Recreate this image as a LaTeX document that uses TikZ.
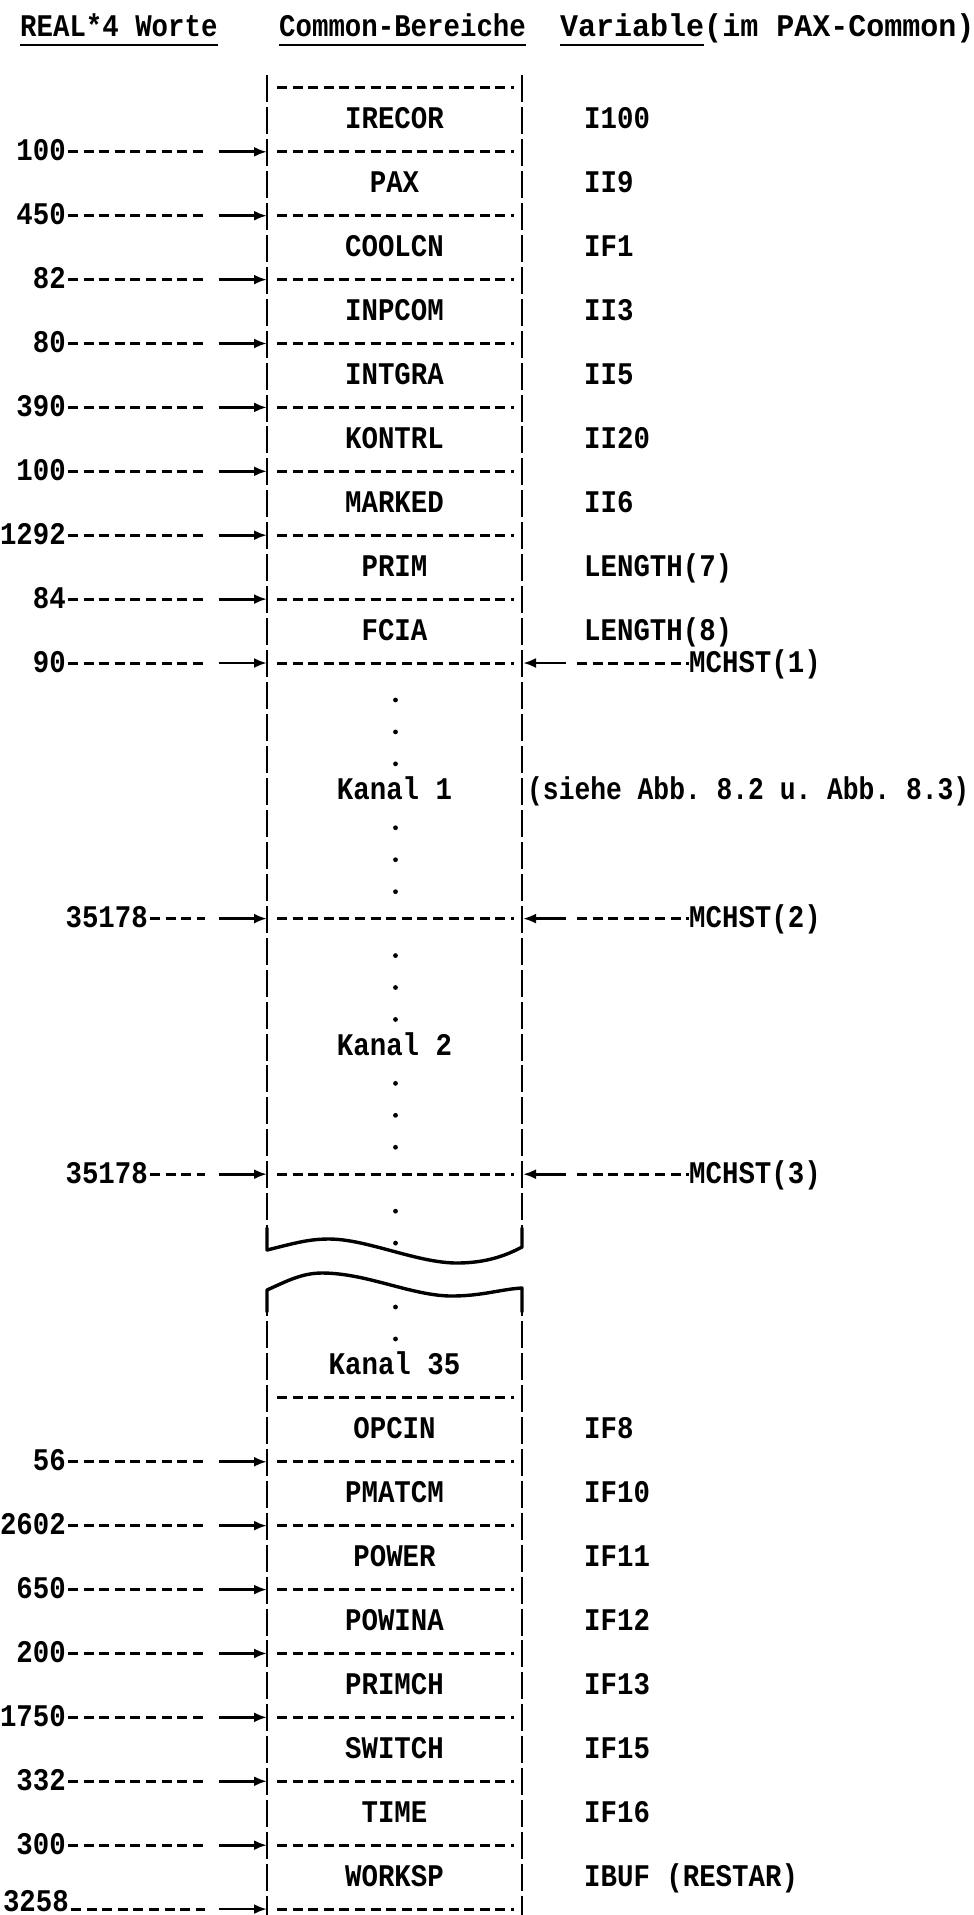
\documentclass[tikz,border=0pt]{standalone}
\usepackage{fontspec}
\usepackage{graphicx}
\newfontfamily\twfont[FakeStretch=0.87]{Liberation Mono}
\usetikzlibrary{arrows.meta}
\begin{document}
\frenchspacing
\begin{tikzpicture}[x=1pt,y=-1pt,
  tw/.style={font=\twfont\bfseries\fontsize{31.5}{32}\selectfont, inner sep=0pt},
  dsh/.style={line width=3pt, dash pattern=on 10pt off 5.6pt},
  vbar/.style={line width=2.8pt, dash pattern=on 27pt off 4.95pt},
  arr/.style={line width=2.8pt,-{Latex[length=13pt,width=10pt]}},
  ul/.style={line width=2.4pt},
  wavy/.style={line width=3.4pt, line cap=round, line join=round}]
\useasboundingbox (0,0) rectangle (974,1915);
\def\xL{267}
\def\xR{522}
\def\xC{394.5}
\def\xV{584}
% header
\node[tw, anchor=base west] (h1) at (20,36) {REAL*4 Worte};
\node[tw, anchor=base west] (h2) at (279,36) {Common-Bereiche};
\node[tw, anchor=base west] (h3) at (560,36) {\scalebox{1.095}[1]{Variable(im PAX-Common)}};
\draw[ul] ([yshift=-9pt]h1.base west) -- ([yshift=-9pt]h1.base east);
\draw[ul] ([yshift=-9pt]h2.base west) -- ([yshift=-9pt]h2.base east);
\draw[ul] ([yshift=-9pt]h3.base west) -- ++(144,0);
% box edges, upper piece
\coordinate (ut) at (\xL,75);
\coordinate (ub) at (\xL,1240);
\coordinate (vt) at (\xR,75);
\coordinate (vb) at (\xR,1240);
\draw[vbar] (ut) -- (ub);
\draw[vbar] (vt) -- (vb);
\draw[wavy] (\xL,1228) -- (\xL,1250) .. controls (\xL+25,1244) and (\xL+40,1239) .. (\xL+62,1239)
  .. controls (\xL+100,1239) and (\xL+150,1263) .. (\xL+190,1263)
  .. controls (\xL+220,1263) and (\xL+240,1255) .. (\xR,1247) -- (\xR,1228);
% lower piece
\draw[wavy] (\xL,1312) -- (\xL,1290) .. controls (\xL+20,1281) and (\xL+35,1273) .. (\xL+55,1273)
  .. controls (\xL+100,1273) and (\xL+145,1296) .. (\xL+185,1296)
  .. controls (\xL+215,1296) and (\xL+235,1289) .. (\xR,1288) -- (\xR,1312);
\coordinate (lt) at (\xL,1289);
\coordinate (lb) at (\xL,1920);
\coordinate (rt) at (\xR,1289);
\coordinate (rb) at (\xR,1920);
\draw[vbar] (lt) -- (lb);
\draw[vbar] (rt) -- (rb);
% dividers without labels
\foreach \n in {2,43} {
  \pgfmathsetmacro\yy{24+31.95*\n}
  \coordinate (L\n) at (\xL,\yy);
  \coordinate (R\n) at (\xR,\yy);
  \draw[dsh] ([xshift=10pt]L\n) -- ([xshift=-8pt]R\n);
}
% labelled dividers
\foreach \n/\t/\e/\b in {4/100/66/9,6/450/66/9,8/82/66/9,10/80/66/9,12/390/66/9,14/100/66/9,16/1292/66/9,18/84/66/9,20/90/66/9,28/35178/148/9,36/35178/148/9,45/56/66/9,47/2602/66/9,49/650/66/9,51/200/66/9,53/1750/66/9,55/332/66/9,57/300/66/9,59/3258/69/2} {
  \pgfmathsetmacro\yy{24+31.95*\n}
  \node[tw,anchor=base east] (num\n) at (\e,\yy+\b) {\t};
  \coordinate (ds\n) at (\e+2,\yy);
  \coordinate (de\n) at (205,\yy);
  \coordinate (as\n) at (219,\yy);
  \coordinate (L\n) at (\xL,\yy);
  \coordinate (R\n) at (\xR,\yy);
  \draw[dsh] (ds\n) -- (de\n);
  \draw[arr] (as\n) -- (L\n);
  \draw[dsh] ([xshift=10pt]L\n) -- ([xshift=-8pt]R\n);
}
% MCHST pointers
\foreach \n/\k in {20/1,28/2,36/3} {
  \pgfmathsetmacro\yy{24+31.95*\n}
  \node[tw,anchor=base west] (mc\n) at (689,\yy+9) {MCHST(\k)};
  \coordinate (ms\n) at (\xR+44,\yy);
  \coordinate (md\n) at (\xR+55,\yy);
  \draw[arr] (ms\n) -- ([xshift=1pt]R\n);
  \draw[dsh] (md\n) -- (mc\n.west |- md\n);
}
% block names and variables
\foreach \n/\a/\b in {3/IRECOR/I100,5/PAX/II9,7/COOLCN/IF1,9/INPCOM/II3,11/INTGRA/II5,13/KONTRL/II20,15/MARKED/II6,17/PRIM/LENGTH(7),19/FCIA/LENGTH(8),44/OPCIN/IF8,46/PMATCM/IF10,48/POWER/IF11,50/POWINA/IF12,52/PRIMCH/IF13,54/SWITCH/IF15,56/TIME/IF16,58/WORKSP/IBUF (RESTAR)} {
  \pgfmathsetmacro\yy{24+31.95*\n}
  \node[tw,anchor=base] (blk\n) at (\xC,\yy+9) {\a};
  \node[tw,anchor=base west] (var\n) at (\xV,\yy+9) {\b};
}
\foreach \n/\a in {24/Kanal 1,32/Kanal 2,42/Kanal 35} {
  \pgfmathsetmacro\yy{24+31.95*\n}
  \node[tw,anchor=base] (blk\n) at (\xC,\yy+9) {\a};
}
\node[tw,anchor=base west] (see) at (\xR+5,24+31.95*24+9) {\scalebox{0.96}[1]{(siehe Abb. 8.2 u. Abb. 8.3)}};
% dots
\foreach \n in {21,22,23,25,26,27,29,30,31,33,34,35,37,38,40,41} {
  \fill (\xC+1,24+31.95*\n+5) circle (2.4pt);
}
\end{tikzpicture}
\end{document}
